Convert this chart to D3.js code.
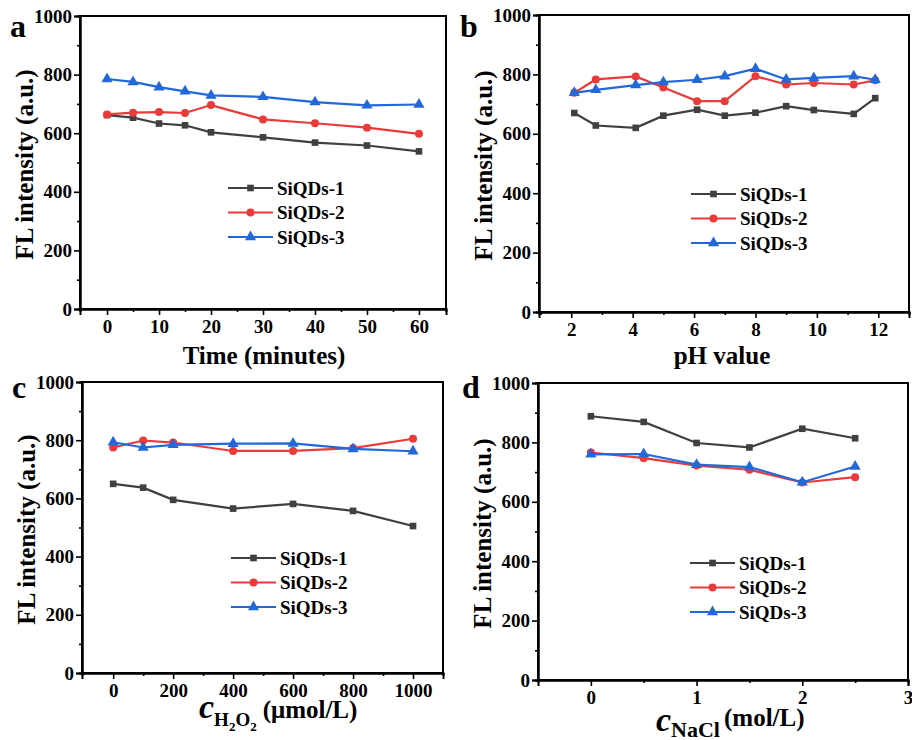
<!DOCTYPE html>
<html>
<head>
<meta charset="utf-8">
<script src="https://cdn.jsdelivr.net/npm/d3@7"></script>
<style>
  body { margin: 0; background: #fff; }
</style>
</head>
<body>
<svg id="chart" width="912" height="740"></svg>
<script>
// values
const seriesNames = ["SiQDs-1", "SiQDs-2", "SiQDs-3"];

const timeMin = [0, 5, 10, 15, 20, 30, 40, 50, 60];
const timeS1 = [662, 653, 633, 627, 603, 586, 568, 558, 538];
const timeS2 = [664, 670, 672, 669, 696, 647, 634, 619, 598];
const timeS3 = [785, 775, 757, 743, 729, 724, 706, 695, 698];

const phVals = [2.1, 2.8, 4.1, 5.0, 6.1, 7.0, 8.0, 9.0, 9.9, 11.2, 11.9];
const phS1 = [670, 628, 620, 661, 681, 661, 671, 693, 680, 667, 720];
const phS2 = [738, 783, 793, 756, 710, 710, 794, 766, 771, 766, 780];
const phS3 = [738, 748, 764, 774, 782, 794, 819, 783, 788, 794, 782];

const h2o2Conc = [0, 100, 200, 400, 600, 800, 1000];
const h2o2S1 = [650, 637, 595, 565, 581, 557, 505];
const h2o2S2 = [775, 799, 792, 763, 763, 773, 805];
const h2o2S3 = [793, 775, 784, 788, 789, 770, 762];

const naclConc = [0, 0.5, 1, 1.5, 2, 2.5];
const naclS1 = [888, 869, 798, 783, 846, 814];
const naclS2 = [766, 747, 722, 708, 665, 683];
const naclS3 = [760, 761, 725, 717, 666, 719];

// tick values
const yTicks = [0, 200, 400, 600, 800, 1000];
const yMinor = [100, 300, 500, 700, 900];
const timeTicks = [0, 10, 20, 30, 40, 50, 60];
const timeMinor = [5, 15, 25, 35, 45, 55];
const phTicks = [2, 4, 6, 8, 10, 12];
const phMinor = [1, 3, 5, 7, 9, 11, 13];
const h2o2Ticks = [0, 200, 400, 600, 800, 1000];
const h2o2Minor = [100, 300, 500, 700, 900];
const naclTicks = [0, 1, 2, 3];
const naclMinor = [0.5, 1.5, 2.5];

const colors = ["#404040", "#ea3a3a", "#2268d8"];
const symbols = [d3.symbolSquare, d3.symbolCircle, d3.symbolTriangle];
const symSizes = [44, 50, 54];
const serif = "'Liberation Serif', 'Times New Roman', Times, 'DejaVu Serif', serif";

const svg = d3.select("#chart")
  .attr("font-family", serif).attr("font-weight", "bold");

function drawPanel(p) {
  const w = p.right - p.left, h = p.bottom - p.top;
  const g = svg.append("g").attr("transform", `translate(${p.left},${p.top})`);

  const x = d3.scaleLinear().domain(p.xDomain).range([0, w]);
  const y = d3.scaleLinear().domain([0, 1000]).range([h, 0]);

  //frame
  g.append("rect").attr("width", w).attr("height", h)
    .attr("fill", "none").attr("stroke", "#000").attr("stroke-width", 2);

  //axes
  const xa = g.append("g").attr("transform", `translate(0,${h})`)
    .call(d3.axisBottom(x).tickValues(p.xTicks).tickSize(6).tickPadding(5).tickFormat(d3.format("d")));
  g.append("g").attr("transform", `translate(0,${h})`)
    .call(d3.axisBottom(x).tickValues(p.xMinor).tickSize(3).tickFormat(""));
  const ya = g.append("g")
    .call(d3.axisLeft(y).tickValues(yTicks).tickSize(6).tickPadding(2).tickFormat(d3.format("d")));
  g.append("g")
    .call(d3.axisLeft(y).tickValues(yMinor).tickSize(3).tickFormat(""));

  g.selectAll("g").attr("font-family", serif);
  g.selectAll(".domain").attr("stroke-width", 2);
  g.selectAll(".tick line").attr("stroke-width", 1.6);
  xa.selectAll("text").attr("font-size", 19).attr("fill", "#000");
  ya.selectAll("text").attr("font-size", 19).attr("fill", "#000");

  //series
  const line = d3.line().x(d => x(d[0])).y(d => y(d[1]));
  p.series.forEach((vals, i) => {
    const pts = p.xs.map((v, j) => [v, vals[j]]);
    g.append("path").datum(pts).attr("d", line)
      .attr("fill", "none").attr("stroke", colors[i]).attr("stroke-width", 2.2);
    g.selectAll(null).data(pts).join("path")
      .attr("transform", d => `translate(${x(d[0])},${y(d[1])})`)
      .attr("d", d3.symbol(symbols[i], symSizes[i]))
      .attr("fill", colors[i]);
  });

  //legend
  const lg = g.append("g").attr("transform", `translate(${p.legend[0]},${p.legend[1]})`);
  seriesNames.forEach((name, i) => {
    const row = lg.append("g").attr("transform", `translate(0,${i * 24.5})`);
    row.append("line").attr("x1", 0).attr("x2", 45)
      .attr("stroke", colors[i]).attr("stroke-width", 2.2);
    row.append("path").attr("transform", "translate(22.5,0)")
      .attr("d", d3.symbol(symbols[i], symSizes[i])).attr("fill", colors[i]);
    row.append("text").attr("x", 49).attr("dy", "0.35em")
      .attr("font-size", 19).text(name);
  });

  //panel letter
  svg.append("text").attr("x", p.letterPos[0]).attr("y", p.letterPos[1])
    .attr("font-size", 32).text(p.letter);

  //y title
  svg.append("text")
    .attr("transform", `translate(${p.left - 47},${p.top + h * 0.5 + 2}) rotate(-90)`)
    .attr("text-anchor", "middle").attr("font-size", 25)
    .text("FL intensity (a.u.)");

  //x title
  p.xTitle(svg.append("text"));
}

drawPanel({
  letter: "a", letterPos: [10, 37],
  left: 80, right: 446, top: 16, bottom: 309,
  xDomain: [-5.2, 65.2], xTicks: timeTicks, xMinor: timeMinor,
  xs: timeMin, series: [timeS1, timeS2, timeS3],
  legend: [148, 172],
  xTitle: t => t.attr("x", 264).attr("y", 364).attr("text-anchor", "middle")
    .attr("font-size", 25).text("Time (minutes)")
});

drawPanel({
  letter: "b", letterPos: [460, 37],
  left: 539, right: 909, top: 15, bottom: 312,
  xDomain: [0.95, 13], xTicks: phTicks, xMinor: phMinor,
  xs: phVals, series: [phS1, phS2, phS3],
  legend: [152, 179],
  xTitle: t => t.attr("x", 722).attr("y", 364).attr("text-anchor", "middle")
    .attr("font-size", 25).text("pH value")
});

drawPanel({
  letter: "c", letterPos: [12, 398],
  left: 82, right: 443, top: 382, bottom: 673,
  xDomain: [-104, 1100], xTicks: h2o2Ticks, xMinor: h2o2Minor,
  xs: h2o2Conc, series: [h2o2S1, h2o2S2, h2o2S3],
  legend: [149, 176],
  xTitle: t => {
    t.attr("x", 199).attr("y", 718);
    t.append("tspan").attr("font-size", 34).attr("font-style", "italic").text("c");
    t.append("tspan").attr("font-size", 19).attr("dy", 8).text("H");
    t.append("tspan").attr("font-size", 13).attr("dy", 5).text("2");
    t.append("tspan").attr("font-size", 19).attr("dy", -5).text("O");
    t.append("tspan").attr("font-size", 13).attr("dy", 5).text("2");
    t.append("tspan").attr("font-size", 25).attr("dy", -13).attr("dx", 6).text("(μmol/L)");
  }
});

drawPanel({
  letter: "d", letterPos: [462, 398],
  left: 538, right: 908, top: 383, bottom: 680,
  xDomain: [-0.5, 3.0], xTicks: naclTicks, xMinor: naclMinor,
  xs: naclConc, series: [naclS1, naclS2, naclS3],
  legend: [152, 180],
  xTitle: t => {
    t.attr("x", 656).attr("y", 731);
    t.append("tspan").attr("font-size", 34).attr("font-style", "italic").text("c");
    t.append("tspan").attr("font-size", 22).attr("dy", 6).text("NaCl");
    t.append("tspan").attr("font-size", 25).attr("dy", -11).attr("dx", 4).text("(mol/L)");
  }
});
</script>
</body>
</html>
